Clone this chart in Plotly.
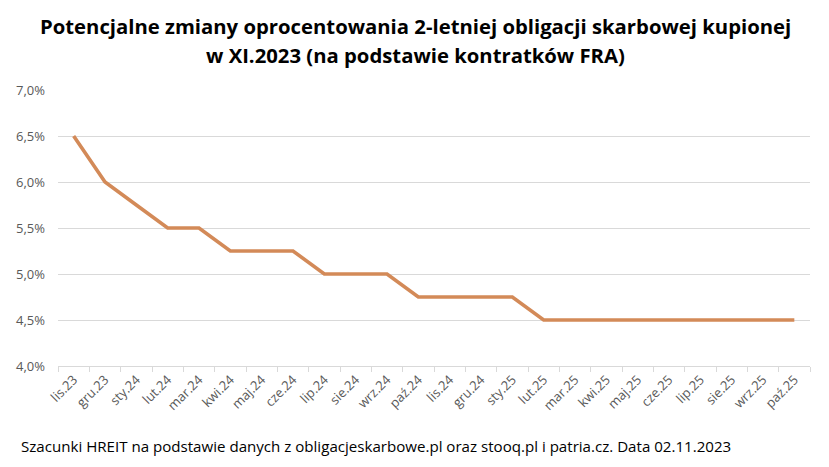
import plotly.graph_objects as go

months = ["lis.23", "gru.23", "sty.24", "lut.24", "mar.24", "kwi.24", "maj.24", "cze.24",
          "lip.24", "sie.24", "wrz.24", "paź.24", "lis.24", "gru.24", "sty.25", "lut.25",
          "mar.25", "kwi.25", "maj.25", "cze.25", "lip.25", "sie.25", "wrz.25", "paź.25"]
rates = [6.5, 6.0, 5.75, 5.5, 5.5, 5.25, 5.25, 5.25, 5.0, 5.0, 5.0, 4.75, 4.75, 4.75, 4.75,
         4.5, 4.5, 4.5, 4.5, 4.5, 4.5, 4.5, 4.5, 4.5]
y_ticks = [4.0, 4.5, 5.0, 5.5, 6.0, 6.5, 7.0]
y_tick_labels = ["4,0%", "4,5%", "5,0%", "5,5%", "6,0%", "6,5%", "7,0%"]

title_line1 = "Potencjalne zmiany oprocentowania 2-letniej obligacji skarbowej kupionej"
title_line2 = "w XI.2023 (na podstawie kontratków FRA)"
source = "Szacunki HREIT na podstawie danych z obligacjeskarbowe.pl oraz stooq.pl i patria.cz. Data 02.11.2023"

font_family = "Open Sans, Liberation Sans, sans-serif"

L, R, T, B = 58, 19, 90, 101
W, H = 829, 467
pw, ph = W - L - R, H - T - B

def px_x(x):
    return (x - L) / pw

def px_y(y):
    return (H - B - y) / ph

fig = go.Figure(go.Scatter(
    x=months, y=rates, mode="lines",
    line=dict(color="#D38A58", width=3.6),
    hoverinfo="x+y",
))

fig.update_layout(
    width=W, height=H,
    margin=dict(l=L, r=R, t=T, b=B, autoexpand=False),
    paper_bgcolor="white", plot_bgcolor="white",
    font=dict(family=font_family, color="#595959", size=12),
    showlegend=False,
    xaxis=dict(
        type="category", tickangle=-45, tickfont=dict(size=13, color="#595959"),
        showgrid=False, showline=True, linecolor="#D9D9D9", linewidth=1,
        ticks="outside", tickson="boundaries", ticklen=5, tickcolor="#D9D9D9",
        range=[-0.5, len(months) - 0.5], automargin=False,
    ),
    yaxis=dict(
        range=[4.0, 7.0], tickvals=y_ticks, ticktext=y_tick_labels,
        tickfont=dict(size=13, color="#595959"),
        showgrid=True, gridcolor="#D9D9D9", gridwidth=1, zeroline=False,
        showline=False, ticks="", ticklabelstandoff=12, automargin=False,
    ),
    annotations=[
        dict(text="<b>" + title_line1 + "</b>", xref="paper", yref="paper",
             x=px_x(415), y=px_y(26), xanchor="center", yanchor="middle", showarrow=False,
             font=dict(family=font_family, size=20.3, color="black")),
        dict(text="<b>" + title_line2 + "</b>", xref="paper", yref="paper",
             x=px_x(415), y=px_y(55), xanchor="center", yanchor="middle", showarrow=False,
             font=dict(family=font_family, size=20.3, color="black")),
        dict(text=source, xref="paper", yref="paper", x=px_x(19), y=px_y(446),
             xanchor="left", yanchor="middle", showarrow=False,
             font=dict(family=font_family, size=15.1, color="black")),
    ],
)

fig.write_html("out.html", config={"displayModeBar": False},
               post_script="document.body.style.margin='0';")
